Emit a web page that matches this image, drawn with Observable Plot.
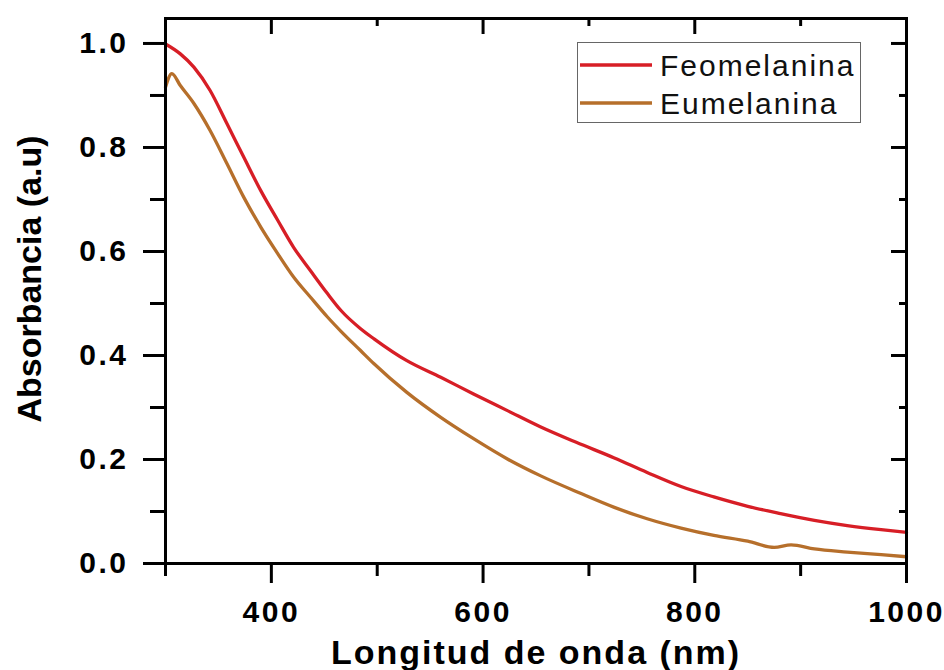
<!DOCTYPE html>
<html>
<head>
<meta charset="utf-8">
<script src="https://cdn.jsdelivr.net/npm/d3@7"></script>
<script src="https://cdn.jsdelivr.net/npm/@observablehq/plot@0.6"></script>
<style>
  body { margin: 0; background: #fff; }
  #wrap { position: relative; width: 944px; height: 670px; overflow: hidden; }
  #chart svg { font-family: "Liberation Sans", Arial, sans-serif; }
  #chart svg text { letter-spacing: 2.5px; }
  #legend { position: absolute; left: 577px; top: 42px; }
  #legend text { font-family: "Liberation Sans", Arial, sans-serif; font-size: 30px; letter-spacing: 2px; fill: #111; }
</style>
</head>
<body>
<div id="wrap">
  <div id="chart"></div>
  <div id="legend"></div>
</div>
<script>
// ---- Data ----
const seriesNames = ["Feomelanina", "Eumelanina"];
const seriesColors = ["#d71e26", "#b66f2b"];

const feoNm  = [300, 314, 327, 342, 358, 374, 390, 406, 421, 437, 453, 466, 484, 497, 528, 560, 591, 623, 654, 688, 724, 755, 787, 818, 850, 881, 913, 944, 976, 1000];
const feoAbs = [0.999, 0.980, 0.954, 0.910, 0.846, 0.781, 0.717, 0.660, 0.608, 0.563, 0.519, 0.486, 0.452, 0.432, 0.390, 0.358, 0.326, 0.294, 0.263, 0.233, 0.203, 0.175, 0.148, 0.128, 0.110, 0.096, 0.083, 0.073, 0.065, 0.060];

const euNm  = [300, 306, 314, 327, 342, 358, 374, 390, 406, 421, 437, 453, 466, 484, 497, 528, 560, 591, 623, 655, 692, 724, 755, 787, 818, 850, 875, 891, 913, 944, 976, 1000];
const euAbs = [0.916, 0.942, 0.919, 0.884, 0.833, 0.769, 0.704, 0.647, 0.596, 0.551, 0.512, 0.474, 0.446, 0.410, 0.384, 0.329, 0.281, 0.240, 0.201, 0.168, 0.135, 0.108, 0.086, 0.068, 0.054, 0.043, 0.031, 0.036, 0.028, 0.022, 0.017, 0.013];

const xMajorTicks = [400, 600, 800, 1000];
const xMinorTicks = [300, 500, 700, 900];
const yMajorTicks = [0, 0.2, 0.4, 0.6, 0.8, 1.0];
const yMinorTicks = [0.1, 0.3, 0.5, 0.7, 0.9];

const xTitle = "Longitud de onda (nm)";
const yTitle = "Absorbancia (a.u)";

// ---- Build table ----
const data = [
  ...feoNm.map((x, i) => ({ series: seriesNames[0], nm: x, abs: feoAbs[i] })),
  ...euNm.map((x, i) => ({ series: seriesNames[1], nm: x, abs: euAbs[i] }))
];

const fmt = d3.format(".1f");
const none = () => "";

const chart = Plot.plot({
  width: 944,
  height: 670,
  marginLeft: 165,
  marginRight: 38,
  marginTop: 18,
  marginBottom: 107,
  style: { fontFamily: "'Liberation Sans', Arial, sans-serif", fontSize: "30px", fontWeight: "bold", color: "#000", background: "#fff", overflow: "visible" },
  x: { domain: [300, 1000] },
  y: { domain: [0, 1.048] },
  color: { domain: seriesNames, range: seriesColors },
  marks: [
    Plot.line(data, { x: "nm", y: "abs", z: "series", stroke: "series", strokeWidth: 3.3, strokeLinejoin: "round", curve: "monotone-x" }),
    Plot.frame({ stroke: "#000", strokeWidth: 3 }),
    // bottom axis
    Plot.axisX({ anchor: "bottom", ticks: xMajorTicks, tickSize: 20, tickPadding: 17, strokeWidth: 3, label: null, tickFormat: d => String(d), fill: "#000" }),
    Plot.axisX({ anchor: "bottom", ticks: xMinorTicks, tickSize: 13, strokeWidth: 3, label: null, tickFormat: none }),
    // top axis (inward)
    Plot.axisX({ anchor: "top", ticks: xMajorTicks, tickSize: -15, strokeWidth: 3, label: null, tickFormat: none }),
    Plot.axisX({ anchor: "top", ticks: xMinorTicks, tickSize: -7, strokeWidth: 3, label: null, tickFormat: none }),
    // left axis
    Plot.axisY({ anchor: "left", ticks: yMajorTicks, tickSize: 22, tickPadding: 15, strokeWidth: 3, label: null, tickFormat: fmt, fill: "#000" }),
    Plot.axisY({ anchor: "left", ticks: yMinorTicks, tickSize: 15, strokeWidth: 3, label: null, tickFormat: none }),
    // right axis (inward)
    Plot.axisY({ anchor: "right", ticks: yMajorTicks, tickSize: -16, strokeWidth: 3, label: null, tickFormat: none }),
    Plot.axisY({ anchor: "right", ticks: yMinorTicks, tickSize: -8, strokeWidth: 3, label: null, tickFormat: none }),
    // axis titles
    Plot.text([xTitle], { frameAnchor: "bottom", dy: 90, textAnchor: "middle", lineAnchor: "middle", fontSize: 34, fontWeight: "bold", fill: "#000", text: d => d }),
    Plot.text([yTitle], { frameAnchor: "left", dx: -135, dy: -12, rotate: -90, textAnchor: "middle", lineAnchor: "middle", fontSize: 34, fontWeight: "bold", fill: "#000", text: d => d })
  ]
});
document.getElementById("chart").appendChild(chart);

// title letter spacing tweaks
d3.select(chart).selectAll("text")
  .filter(function () { return this.textContent === yTitle; })
  .style("letter-spacing", "0px");
d3.select(chart).selectAll("text")
  .filter(function () { return this.textContent === xTitle; })
  .style("letter-spacing", "2px");

// ---- Legend (box in upper right of plot) ----
const lw = 284, lh = 81;
const leg = d3.select("#legend").append("svg").attr("width", lw).attr("height", lh);
leg.append("rect").attr("x", 0.5).attr("y", 0.5).attr("width", lw - 1).attr("height", lh - 1)
  .attr("fill", "#fff").attr("stroke", "#666").attr("stroke-width", 1);
seriesNames.forEach((name, i) => {
  const cy = 23 + i * 38;
  leg.append("line").attr("x1", 3).attr("x2", 75).attr("y1", cy).attr("y2", cy)
    .attr("stroke", seriesColors[i]).attr("stroke-width", 3.5);
  leg.append("text").attr("x", 83).attr("y", cy + 10.5).text(name);
});
</script>
</body>
</html>
